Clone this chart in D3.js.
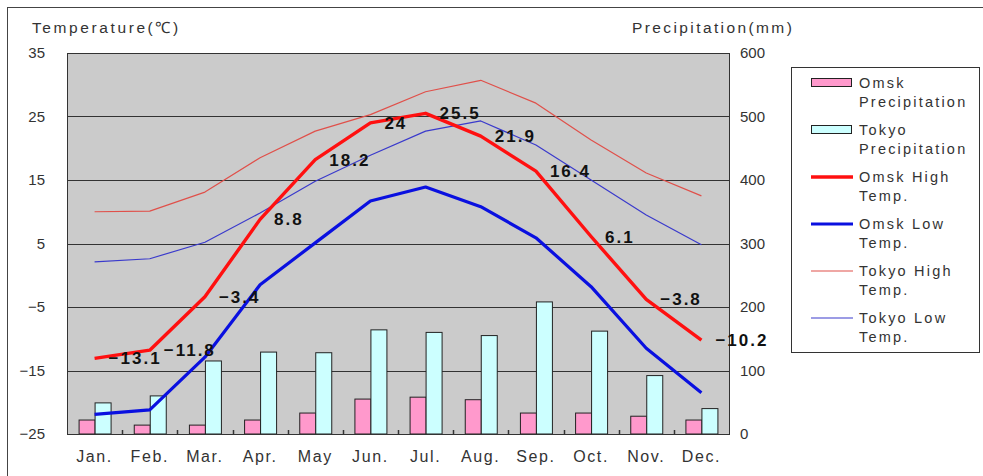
<!DOCTYPE html>
<html>
<head>
<meta charset="utf-8">
<script src="https://cdn.jsdelivr.net/npm/d3@7"></script>
<style>
  body { margin: 0; background: #fff; }
  svg { display: block; font-family: 'Liberation Sans', Arial, sans-serif; }
</style>
</head>
<body>
<div id="chart"></div>
<script>
const months = ['Jan.', 'Feb.', 'Mar.', 'Apr.', 'May', 'Jun.', 'Jul.', 'Aug.', 'Sep.', 'Oct.', 'Nov.', 'Dec.']
const omskPrecip = [22, 14, 14, 22, 33, 55, 58, 54, 33, 33, 28, 22]
const tokyoPrecip = [49, 60, 115, 129, 128, 164, 160, 155, 208, 162, 92, 40]
const omskHigh = [-13.1, -11.8, -3.4, 8.8, 18.2, 24, 25.5, 21.9, 16.4, 6.1, -3.8, -10.2]
const omskLow = [-21.9, -21.2, -12.9, -1.5, 5.1, 11.7, 13.9, 10.8, 5.9, -1.8, -11.5, -18.5]
const tokyoHigh = [10.0, 10.1, 13.1, 18.5, 22.7, 25.3, 28.9, 30.7, 27.1, 21.3, 16.1, 12.5]
const tokyoLow = [2.1, 2.6, 5.2, 9.8, 14.8, 18.9, 22.7, 24.3, 20.5, 15.0, 9.5, 4.8]
const tempTicks = [-25, -15, -5, 5, 15, 25, 35]
const precipTicks = [0, 100, 200, 300, 400, 500, 600]

const width = 983
const height = 476
const plot = { left: 67, right: 729, top: 53, bottom: 434 }

const svg = d3.select('#chart')
  .append('svg')
  .attr('width', width)
  .attr('height', height)

// outer frame
svg.append('rect')
  .attr('x', 7.5).attr('y', 7.5)
  .attr('width', width).attr('height', height)
  .attr('fill', '#fff')
  .attr('stroke', '#444')

const x = d3.scaleBand()
  .domain(months)
  .range([plot.left, plot.right])

const yT = d3.scaleLinear().domain([-25, 35]).range([plot.bottom, plot.top])
const yP = d3.scaleLinear().domain([0, 600]).range([plot.bottom, plot.top])

// plot background
svg.append('rect')
  .attr('x', plot.left).attr('y', plot.top)
  .attr('width', plot.right - plot.left)
  .attr('height', plot.bottom - plot.top)
  .attr('fill', '#cbcbcb')

// grid lines
svg.append('g')
  .selectAll('line')
  .data(tempTicks)
  .join('line')
  .attr('x1', plot.left).attr('x2', plot.right)
  .attr('y1', d => Math.round(yT(d)) + 0.5)
  .attr('y2', d => Math.round(yT(d)) + 0.5)
  .attr('stroke', '#333')

// bars
const barW = 16
const bars = svg.append('g')
bars.selectAll('rect.omsk')
  .data(omskPrecip)
  .join('rect')
  .attr('class', 'omsk')
  .attr('x', (d, i) => x(months[i]) + x.bandwidth() / 2 - barW + 0.5)
  .attr('y', d => yP(d))
  .attr('width', barW)
  .attr('height', d => yP(0) - yP(d))
  .attr('fill', '#ff99cc')
  .attr('stroke', '#222')

bars.selectAll('rect.tokyo')
  .data(tokyoPrecip)
  .join('rect')
  .attr('class', 'tokyo')
  .attr('x', (d, i) => x(months[i]) + x.bandwidth() / 2 + 0.5)
  .attr('y', d => yP(d))
  .attr('width', barW)
  .attr('height', d => yP(0) - yP(d))
  .attr('fill', '#ccffff')
  .attr('stroke', '#222')

// plot border
svg.append('rect')
  .attr('x', plot.left + 0.5).attr('y', plot.top + 0.5)
  .attr('width', plot.right - plot.left)
  .attr('height', plot.bottom - plot.top)
  .attr('fill', 'none')
  .attr('stroke', '#333')

// small category ticks on the x axis
svg.append('g')
  .selectAll('line')
  .data(months.slice(1))
  .join('line')
  .attr('x1', d => Math.round(x(d)) + 0.5)
  .attr('x2', d => Math.round(x(d)) + 0.5)
  .attr('y1', plot.bottom - 4)
  .attr('y2', plot.bottom)
  .attr('stroke', '#333')
  .attr('stroke-width', 1.5)

// lines
const line = d3.line()
  .x((d, i) => x(months[i]) + x.bandwidth() / 2)
  .y(d => yT(d))

const series = [
  { values: tokyoHigh, color: '#e0504a', w: 1.2 },
  { values: tokyoLow, color: '#3a3acc', w: 1.2 },
  { values: omskLow, color: '#0a10e0', w: 3.2 },
  { values: omskHigh, color: '#ff1010', w: 3.4 }
]

svg.append('g')
  .selectAll('path')
  .data(series)
  .join('path')
  .attr('d', d => line(d.values))
  .attr('fill', 'none')
  .attr('stroke', d => d.color)
  .attr('stroke-width', d => d.w)
  .attr('stroke-linejoin', 'round')

// data labels for Omsk high
svg.append('g')
  .selectAll('text')
  .data(omskHigh)
  .join('text')
  .attr('x', (d, i) => x(months[i]) + x.bandwidth() / 2 + 14)
  .attr('y', d => yT(d) + 6)
  .attr('font-size', 17)
  .attr('font-weight', 'bold')
  .attr('letter-spacing', 2)
  .attr('fill', '#111')
  .text(d => String(d).replace('-', '\u2212'))

// axes labels
const axisLeft = svg.append('g')
  .attr('transform', `translate(${plot.left}, 0)`)
  .call(d3.axisLeft(yT).tickValues(tempTicks).tickSize(0).tickPadding(22)
    .tickFormat(d => String(d).replace('-', '\u2212')))
axisLeft.select('.domain').remove()
axisLeft.selectAll('text')
  .attr('font-size', 15).attr('fill', '#333')
  .attr('font-family', "'Liberation Sans', Arial, sans-serif")

const axisRight = svg.append('g')
  .attr('transform', `translate(${plot.right}, 0)`)
  .call(d3.axisRight(yP).tickValues(precipTicks).tickSize(0).tickPadding(11))
axisRight.select('.domain').remove()
axisRight.selectAll('text')
  .attr('font-size', 15).attr('fill', '#333')
  .attr('font-family', "'Liberation Sans', Arial, sans-serif")

const axisBottom = svg.append('g')
  .attr('transform', `translate(0, ${plot.bottom})`)
  .call(d3.axisBottom(x).tickSize(0).tickPadding(17))
axisBottom.select('.domain').remove()
axisBottom.selectAll('text')
  .attr('font-size', 16).attr('fill', '#333')
  .attr('letter-spacing', 1.6)
  .attr('font-family', "'Liberation Sans', Arial, sans-serif")

// titles
svg.append('text')
  .attr('x', 32).attr('y', 33)
  .attr('font-size', 15.5).attr('fill', '#333')
  .attr('letter-spacing', 2.6)
  .text('Temperature(\u2103)')

svg.append('text')
  .attr('x', 632).attr('y', 33)
  .attr('font-size', 15.5).attr('fill', '#333')
  .attr('letter-spacing', 2.4)
  .text('Precipitation(mm)')

// legend
const legendItems = [
  { lines: ['Omsk', 'Precipitation'], type: 'bar', fill: '#ff99cc', y: 83 },
  { lines: ['Tokyo', 'Precipitation'], type: 'bar', fill: '#ccffff', y: 130 },
  { lines: ['Omsk High', 'Temp.'], type: 'line', color: '#ff1010', w: 3.4, y: 177 },
  { lines: ['Omsk Low', 'Temp.'], type: 'line', color: '#0a10e0', w: 3.2, y: 224 },
  { lines: ['Tokyo High', 'Temp.'], type: 'line', color: '#e0504a', w: 1.2, y: 271 },
  { lines: ['Tokyo Low', 'Temp.'], type: 'line', color: '#3a3acc', w: 1.2, y: 318 }
]

const legend = svg.append('g')
legend.append('rect')
  .attr('x', 791.5).attr('y', 67.5)
  .attr('width', 188).attr('height', 285)
  .attr('fill', '#fff')
  .attr('stroke', '#333')

const li = legend.selectAll('g.item')
  .data(legendItems)
  .join('g')
  .attr('class', 'item')

li.filter(d => d.type === 'bar')
  .append('rect')
  .attr('x', 811.5).attr('y', d => d.y - 4.5)
  .attr('width', 40).attr('height', 8)
  .attr('fill', d => d.fill)
  .attr('stroke', '#222')

li.filter(d => d.type === 'line')
  .append('line')
  .attr('x1', 811).attr('x2', 853)
  .attr('y1', d => d.y).attr('y2', d => d.y)
  .attr('stroke', d => d.color)
  .attr('stroke-width', d => d.w)

li.append('text')
  .attr('x', 859)
  .attr('font-size', 14.5)
  .attr('fill', '#333')
  .attr('letter-spacing', 2.2)
  .selectAll('tspan')
  .data(d => d.lines.map((t, k) => ({ t, y: d.y + 5 + k * 18.5 })))
  .join('tspan')
  .attr('x', 859)
  .attr('y', d => d.y)
  .text(d => d.t)
</script>
</body>
</html>
